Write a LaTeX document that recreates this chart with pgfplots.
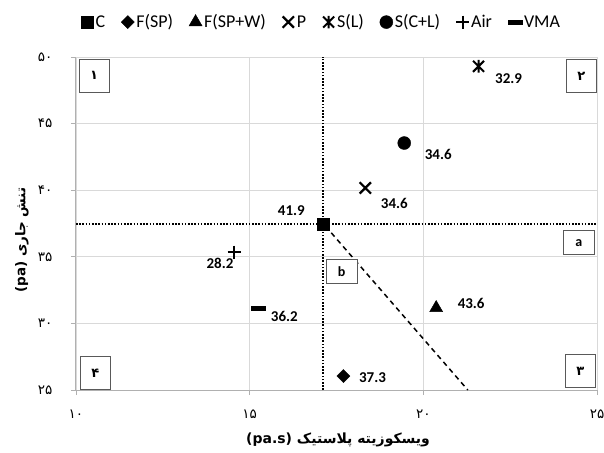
\documentclass[border=0pt]{standalone}
\usepackage{fontspec}
\usepackage{pgfplots}
\pgfplotsset{compat=1.18}
\setmainfont{Carlito}
\newfontfamily\fa[Script=Arabic]{DejaVu Sans}
\TeXXeTstate=1
\definecolor{gridc}{HTML}{D9D9D9}
\definecolor{axc}{HTML}{B0B0B0}
\definecolor{boxc}{HTML}{595959}
\pgfdeclareplotmark{xstar}{%
 \pgfpathmoveto{\pgfqpoint{-\pgfplotmarksize}{-\pgfplotmarksize}}\pgfpathlineto{\pgfqpoint{\pgfplotmarksize}{\pgfplotmarksize}}%
 \pgfpathmoveto{\pgfqpoint{-\pgfplotmarksize}{\pgfplotmarksize}}\pgfpathlineto{\pgfqpoint{\pgfplotmarksize}{-\pgfplotmarksize}}%
 \pgfpathmoveto{\pgfqpoint{0pt}{-1.15\pgfplotmarksize}}\pgfpathlineto{\pgfqpoint{0pt}{1.15\pgfplotmarksize}}%
 \pgfusepathqstroke}
\begin{document}
\begin{tikzpicture}
\useasboundingbox (-76bp,-63bp) rectangle (528bp,390bp);
\begin{axis}[
 at={(0,0)}, anchor=south west,
 scale only axis, width=521bp, height=333bp,
 xmin=10, xmax=25, ymin=25, ymax=50,
 clip=false,
 axis lines*=left,
 axis line style={axc, line width=1bp},
 grid=major, major grid style={gridc, line width=0.8bp},
 xtick={10,15,20,25}, xticklabels={۱۰,۱۵,۲۰,۲۵},
 ytick={25,30,35,40,45,50}, yticklabels={۲۵,۳۰,۳۵,۴۰,۴۵,۵۰},
 tick align=outside, major tick length=5bp,
 tick style={axc, line width=0.8bp},
 ticklabel style={font=\fa\fontsize{13.5bp}{15bp}\selectfont},
 xticklabel style={anchor=center, yshift=-19bp},
 yticklabel style={anchor=east, xshift=-15bp},
 xlabel={\fa\bfseries\fontsize{14bp}{16bp}\selectfont\beginR ویسکوزیته پلاستیک \beginL(pa.s)\endL\endR},
 ylabel={\fa\bfseries\fontsize{13.5bp}{16bp}\selectfont\beginR تنش جاری \beginL(pa)\endL\endR},
 every axis x label/.style={at={(axis description cs:0.503,-0.15)}, anchor=center},
 every axis y label/.style={at={(axis description cs:-0.104,0.45)}, anchor=center, rotate=90},
 legend columns=8,
 legend style={draw=none, fill=none, at={(axis description cs:0.47,1)}, anchor=center, yshift=35bp,
   font=\fontsize{18bp}{20bp}\selectfont, inner sep=0pt,
   nodes={inner xsep=1.5bp, inner ysep=0pt},
   /tikz/every even column/.append style={column sep=14bp}},
 legend image code/.code={\path[draw=none, fill=none] (0bp,-5bp) rectangle (14bp,5bp); \draw[#1] plot coordinates {(7bp,0bp)};},
 nodes near coords, point meta=explicit symbolic,
 nodes near coords style={font=\bfseries\fontsize{15bp}{17bp}\selectfont, anchor=center, black},
]
% reference lines
\addplot[forget plot, black, line width=2bp, dash pattern=on 1.6bp off 1.6bp, nodes near coords=] coordinates {(17.12,25) (17.12,50)};
\addplot[forget plot, black, line width=2bp, dash pattern=on 1.6bp off 1.6bp, nodes near coords=] coordinates {(10,37.47) (25,37.47)};
\addplot[forget plot, black, line width=1.5bp, dash pattern=on 5bp off 4bp, nodes near coords=] coordinates {(17.35,36.8) (21.28,25)};
% series
\addplot[only marks, black, mark=square*, mark size=6bp, nodes near coords style={xshift=-32bp, yshift=13bp}] coordinates {(17.12,37.47) [41.9]};
\addlegendentry{C}
\addplot[only marks, black, mark=square*, mark size=4.6bp, mark options={rotate=45}, nodes near coords style={xshift=29bp, yshift=-2bp}] coordinates {(17.7,26.05) [37.3]};
\addlegendentry{F(SP)}
\addplot[only marks, black, mark=triangle*, mark size=7.5bp, nodes near coords style={xshift=35bp, yshift=5bp}] coordinates {(20.37,31.16) [43.6]};
\addlegendentry{F(SP+W)}
\addplot[only marks, black, mark=x, mark size=8bp, line width=2.2bp, mark options={line width=2.2bp}, nodes near coords style={xshift=29bp, yshift=-16bp}] coordinates {(18.33,40.17) [34.6]};
\addlegendentry{P}
\addplot[only marks, black, mark=xstar, mark size=5.5bp, line width=2bp, mark options={line width=2bp}, nodes near coords style={xshift=30bp, yshift=-12bp}] coordinates {(21.59,49.3) [32.9]};
\addlegendentry{S(L)}
\addplot[only marks, black, mark=*, mark size=6.5bp, nodes near coords style={xshift=34bp, yshift=-11bp}] coordinates {(19.45,43.54) [34.6]};
\addlegendentry{S(C+L)}
\addplot[only marks, black, mark=+, mark size=6.5bp, line width=2.2bp, mark options={line width=2.2bp}, nodes near coords style={xshift=-14bp, yshift=-11bp}] coordinates {(14.55,35.36) [28.2]};
\addlegendentry{Air}
\addplot[only marks, black, mark=-, mark size=7.5bp, line width=5bp, mark options={line width=5bp}, nodes near coords style={xshift=26bp, yshift=-8bp}] coordinates {(15.25,31.15) [36.2]};
\addlegendentry{VMA}
% boxes
\node[draw=boxc, fill=white, line width=1bp, minimum width=30bp, minimum height=33bp, inner sep=0pt, font=\fa\bfseries\fontsize{13bp}{15bp}\selectfont] at (axis cs:10.52,48.6) {۱};
\node[draw=boxc, fill=white, line width=1bp, minimum width=30bp, minimum height=33bp, inner sep=0pt, font=\fa\bfseries\fontsize{13bp}{15bp}\selectfont] at (axis cs:24.55,48.57) {۲};
\node[draw=boxc, fill=white, line width=1bp, minimum width=30bp, minimum height=33bp, inner sep=0pt, font=\fa\bfseries\fontsize{13bp}{15bp}\selectfont] at (axis cs:24.52,26.43) {۳};
\node[draw=boxc, fill=white, line width=1bp, minimum width=30bp, minimum height=33bp, inner sep=0pt, font=\fa\bfseries\fontsize{13bp}{15bp}\selectfont] at (axis cs:10.56,26.24) {۴};
\node[draw=boxc, fill=white, line width=1bp, minimum width=31bp, minimum height=24bp, inner sep=0pt, font=\bfseries\fontsize{14bp}{16bp}\selectfont] at (axis cs:24.48,36.04) {a};
\node[draw=boxc, fill=white, line width=1bp, minimum width=31bp, minimum height=24bp, inner sep=0pt, font=\bfseries\fontsize{14bp}{16bp}\selectfont] at (axis cs:17.65,33.86) {b};
\end{axis}
\end{tikzpicture}
\end{document}
